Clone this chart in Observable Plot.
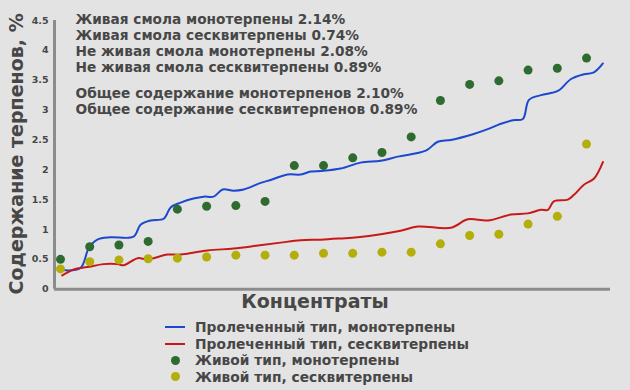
<!DOCTYPE html>
<html><head><meta charset="utf-8">
<script src="https://cdn.jsdelivr.net/npm/d3@7"></script>
<script src="https://cdn.jsdelivr.net/npm/@observablehq/plot@0.6"></script>
<style>
html,body{margin:0;padding:0;background:#e3e3e3;}
#wrap{position:relative;width:630px;height:390px;font-family:"DejaVu Sans",sans-serif;color:#474747;overflow:hidden;}
#legend{position:absolute;left:165px;top:319px;font-size:13.8px;font-weight:bold;line-height:16.5px;}
.item{display:flex;align-items:center;height:16.5px;white-space:nowrap;}
.sw{width:20px;height:12px;margin-right:10px;display:flex;align-items:center;justify-content:center;}
</style></head>
<body><div id="wrap"><div id="chart"></div><div id="legend"></div></div>
<script>
// Concentrate index (points) for the "live" type
const concentrates = [0,1,2,3,4,5,6,7,8,9,10,11,12,13,14,15,16,17,18];
const liveMono = [0.50,0.71,0.74,0.80,1.34,1.39,1.40,1.47,2.07,2.07,2.20,2.29,2.55,3.16,3.43,3.49,3.67,3.70,3.87];
const liveSesq = [0.34,0.46,0.49,0.51,0.52,0.54,0.57,0.57,0.57,0.60,0.60,0.62,0.62,0.76,0.90,0.92,1.09,1.22,2.43];

// Resin ("пролеченный") type, traced curves: position along concentrates axis and value
const resinMonoX = [0.06,0.68,0.97,1.26,1.71,2.50,2.74,3.08,3.53,3.77,4.11,4.55,4.90,5.24,5.55,5.92,6.27,6.85,7.19,7.77,8.22,8.56,8.90,9.59,10.27,10.96,11.54,12.50,12.91,13.36,14.14,14.62,15.07,15.48,15.82,16.03,16.44,17.02,17.47,17.91,18.25,18.56];
const resinMonoY = [0.32,0.355,0.69,0.83,0.87,0.88,1.08,1.15,1.18,1.37,1.45,1.52,1.55,1.55,1.67,1.65,1.67,1.78,1.83,1.92,1.92,1.97,1.98,2.02,2.12,2.15,2.22,2.32,2.47,2.50,2.60,2.68,2.77,2.83,2.85,3.17,3.25,3.32,3.52,3.60,3.63,3.78];
const resinSesqX = [0.06,0.45,0.92,1.47,1.95,2.16,2.64,2.98,3.66,4.11,5.03,5.92,6.75,7.53,8.22,8.90,9.59,10.17,10.96,11.64,12.23,13.36,13.94,14.62,15.41,15.99,16.44,16.68,16.88,17.36,17.57,17.91,18.25,18.56];
const resinSesqY = [0.23,0.33,0.37,0.42,0.42,0.40,0.52,0.50,0.58,0.58,0.65,0.68,0.73,0.78,0.82,0.83,0.85,0.87,0.92,0.98,1.05,1.03,1.17,1.15,1.25,1.27,1.33,1.33,1.47,1.50,1.58,1.75,1.85,2.13];

const yTicks = [0,0.5,1,1.5,2,2.5,3,3.5,4,4.5];
const notesA = ["Живая смола монотерпены 2.14%","Живая смола сесквитерпены 0.74%","Не живая смола монотерпены 2.08%","Не живая смола сесквитерпены 0.89%"];
const notesB = ["Общее содержание монотерпенов 2.10%","Общее содержание сесквитерпенов 0.89%"];
const yLabel = "Содержание терпенов, %";
const xLabel = "Концентраты";
const seriesNames = ["Пролеченный тип, монотерпены","Пролеченный тип, сесквитерпены","Живой тип, монотерпены","Живой тип, сесквитерпены"];
const seriesKinds = ["line","line","dot","dot"];
const seriesColors = ["#1c48d0","#c81818","#2e6b30","#b4ae0a"];

const monoLine = resinMonoX.map((x,i)=>({x, y: resinMonoY[i]}));
const sesqLine = resinSesqX.map((x,i)=>({x, y: resinSesqY[i]}));
const monoPts = concentrates.map((x,i)=>({x, y: liveMono[i]}));
const sesqPts = concentrates.map((x,i)=>({x, y: liveSesq[i]}));

const txt = "#474747";
const chart = Plot.plot({
  width: 630, height: 316,
  marginLeft: 54, marginRight: 20, marginTop: 20, marginBottom: 27.3,
  style: {background: "transparent", fontFamily: "'DejaVu Sans', sans-serif", color: txt, overflow: "visible"},
  x: {domain: [-0.205, 18.82], axis: null},
  y: {domain: [0, 4.5], axis: null},
  marks: [
    Plot.axisY({ticks: yTicks, tickFormat: d => `${d}`, tickSize: 0, tickPadding: 6, label: null, fontSize: 9.5, fontWeight: "bold", fill: txt}),
    Plot.ruleX([-0.205], {stroke: "#8c8c8c", strokeWidth: 3}),
    Plot.ruleY([0], {stroke: "#8c8c8c", strokeWidth: 3}),
    Plot.line(monoLine, {x: "x", y: "y", stroke: seriesColors[0], strokeWidth: 2, curve: "catmull-rom"}),
    Plot.line(sesqLine, {x: "x", y: "y", stroke: seriesColors[1], strokeWidth: 2, curve: "catmull-rom"}),
    Plot.dot(monoPts, {x: "x", y: "y", r: 4.5, fill: seriesColors[2]}),
    Plot.dot(sesqPts, {x: "x", y: "y", r: 4.5, fill: seriesColors[3]}),
    Plot.text([notesA.join("\n")], {frameAnchor: "top-left", lineAnchor: "top", dx: 21, dy: -7.5, lineHeight: 1.17, fontSize: 13.7, fontWeight: "bold", fill: txt, textAnchor: "start"}),
    Plot.text([notesB.join("\n")], {frameAnchor: "top-left", lineAnchor: "top", dx: 21, dy: 66.5, lineHeight: 1.17, fontSize: 13.7, fontWeight: "bold", fill: txt, textAnchor: "start"}),
    Plot.text([yLabel], {frameAnchor: "left", rotate: -90, textAnchor: "middle", lineAnchor: "middle", dx: -38, dy: -1, fontSize: 19, fontWeight: "bold", fill: txt}),
    Plot.text([xLabel], {frameAnchor: "bottom", textAnchor: "middle", lineAnchor: "middle", dx: -17.5, dy: 13, fontSize: 19, fontWeight: "bold", fill: txt})
  ]
});
document.getElementById("chart").appendChild(chart);

const leg = d3.select("#legend");
seriesNames.forEach((name,i)=>{
  const it = leg.append("div").attr("class","item");
  const sw = it.append("div").attr("class","sw");
  if (seriesKinds[i] === "line") sw.append("div").style("width","20px").style("height","2px").style("background",seriesColors[i]);
  else sw.append("div").style("width","9px").style("height","9px").style("border-radius","50%").style("background",seriesColors[i]);
  it.append("span").text(name);
});
</script></body></html>
